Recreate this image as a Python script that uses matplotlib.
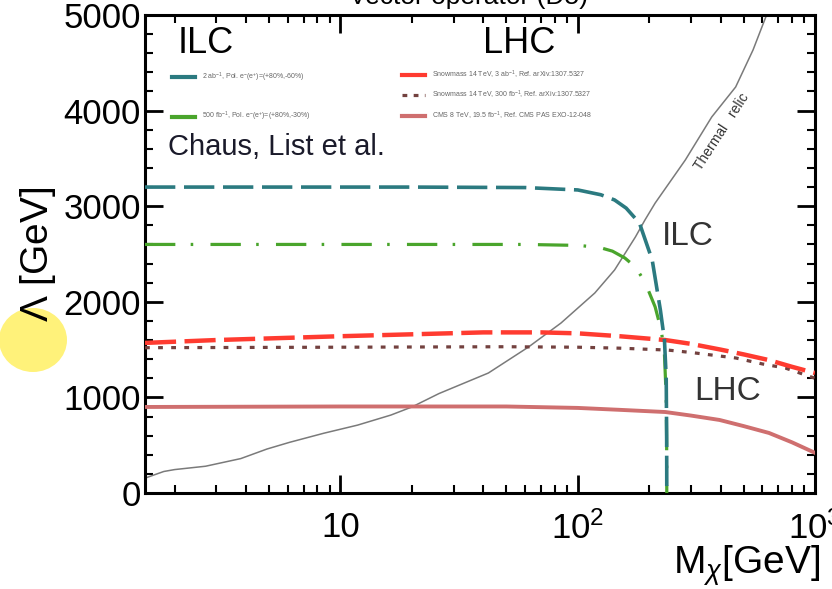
import matplotlib
matplotlib.use("Agg")
import matplotlib.pyplot as plt
from matplotlib.lines import Line2D
from matplotlib.patches import Ellipse

plt.rcParams['font.family'] = ['Liberation Sans', 'DejaVu Sans']
plt.rcParams['mathtext.fontset'] = 'custom'
plt.rcParams['mathtext.rm'] = 'Liberation Sans'
plt.rcParams['mathtext.it'] = 'Liberation Sans:italic'

# ILC, 2 ab^-1
ilc2_m = [1.5, 20, 60, 100, 125, 143, 160, 182, 206, 223, 232, 236, 237, 237.3]
ilc2_lam = [3200, 3200, 3195, 3170, 3120, 3065, 2980, 2824, 2437, 1914, 1600, 1200, 600, 0]

# ILC, 500 fb^-1
ilc500_m = [1.5, 60, 100, 123, 140, 158, 175, 192, 212, 225, 232, 236, 237, 237.3]
ilc500_lam = [2600, 2600, 2590, 2570, 2530, 2458, 2364, 2207, 1946, 1700, 1450, 1000, 500, 0]

# LHC 14 TeV, 3 ab^-1
lhc3000_m = [1.5, 3, 10, 20, 40, 70, 100, 150, 234, 300, 400, 500, 640, 800, 1000]
lhc3000_lam = [1570, 1600, 1640, 1660, 1680, 1680, 1670, 1640, 1600, 1560, 1500, 1450, 1390, 1320, 1255]

# LHC 14 TeV, 300 fb^-1
lhc300_m = [1.5, 10, 50, 100, 150, 240, 300, 464, 600, 750, 1000]
lhc300_lam = [1520, 1525, 1530, 1525, 1515, 1495, 1470, 1412, 1350, 1307, 1200]

# CMS 8 TeV, 19.5 fb^-1
cms8_m = [1.5, 10, 50, 100, 150, 234, 300, 396, 500, 640, 800, 1000]
cms8_lam = [900, 905, 905, 890, 870, 847, 810, 764, 700, 628, 530, 420]

# thermal relic
relic_m = [1.5, 1.6, 1.8, 2.0, 2.7, 3.8, 4.9, 6.1, 8.5, 11.8, 16.3, 20, 26, 42, 62, 85,
           118, 143, 175, 192, 212, 284, 367, 463, 548, 625]
relic_lam = [155, 180, 225, 245, 280, 360, 460, 530, 625, 710, 815, 900, 1040, 1255, 1527, 1778,
             2092, 2333, 2678, 2856, 3033, 3483, 3933, 4247, 4634, 5000]

ilc_labels = [r"2 ab$^{-1}$, Pol. e$^{-}$(e$^{+}$)=(+80%,-60%)",
              r"500 fb$^{-1}$, Pol. e$^{-}$(e$^{+}$)=(+80%,-30%)"]
lhc_labels = [r"Snowmass 14 TeV, 3 ab$^{-1}$, Ref. arXiv:1307.5327",
              r"Snowmass 14 TeV, 300 fb$^{-1}$, Ref. arXiv:1307.5327",
              r"CMS 8 TeV, 19.5 fb$^{-1}$, Ref. CMS PAS EXO-12-048"]

xticks = [10, 100, 1000]
xtick_labels = ["10", r"10$^{2}$", r"10$^{3}$"]
yticks = [0, 1000, 2000, 3000, 4000, 5000]
ytick_labels = ["0", "1000", "2000", "3000", "4000", "5000"]

c_teal = '#2b7a80'
c_green = '#4aa52c'
c_red = '#ff3b30'
c_brown = '#73413f'
c_pink = '#cf6f6f'
c_gray = '#7a7a7a'

fig = plt.figure(figsize=(8.32, 5.89), dpi=100)
ax = fig.add_axes([145/832, 1-493/589, 670/832, 478/589])

ax.plot(relic_m, relic_lam, color=c_gray, lw=1.1, zorder=2)
ax.plot(cms8_m, cms8_lam, color=c_pink, lw=2.8, zorder=3)
ax.plot(lhc300_m, lhc300_lam, color=c_brown, lw=2.3, ls=(0, (1.5, 2.6)), zorder=3)
ax.plot(lhc3000_m, lhc3000_lam, color=c_red, lw=3.2, ls=(0, (7.0, 1.9)), zorder=4)
ax.plot(ilc500_m, ilc500_lam, color=c_green, lw=2.3, ls=(0, (9.5, 4.8, 0.8, 5.4)), zorder=4)
ax.plot(ilc2_m, ilc2_lam, color=c_teal, lw=2.6, ls=(0, (8.4, 2.4)), zorder=5)

ax.set_xscale('log')
ax.set_xlim(1.5, 1000)
ax.set_ylim(0, 5000)
ax.set_xticks(xticks)
ax.set_xticklabels(xtick_labels)
ax.set_yticks(yticks)
ax.set_yticklabels(ytick_labels)
ax.set_yticks(range(0, 5001, 200), minor=True)

for s in ax.spines.values():
    s.set_linewidth(2.2)
ax.tick_params(which='both', direction='in', top=True, right=True, labelsize=25, colors='black')
ax.tick_params(which='major', length=13, width=2.0)
ax.tick_params(which='minor', length=6, width=1.5)
ax.tick_params(axis='x', which='major', pad=13)
ax.tick_params(axis='y', which='major', pad=3)
ax.tick_params(axis='x', which='minor', labelbottom=False)

ax.set_ylabel(r"$\Lambda$ [GeV]", fontsize=28)
ax.yaxis.set_label_coords(-0.13, 0.5)
ax.set_xlabel(r"M$_{\chi}$[GeV]", fontsize=28, loc='right')
ax.xaxis.set_label_coords(1.008, -0.105)

# panel title, partly above the canvas
fig.text(0.563, 0.994, "Vector operator (D5)", fontsize=19, ha='center', va='baseline')

# legends
ax.text(0.091, 0.941, "ILC", fontsize=26, ha='center', va='center', transform=ax.transAxes)
ax.text(0.558, 0.941, "LHC", fontsize=26, ha='center', va='center', transform=ax.transAxes)

ilc_handles = [Line2D([], [], color=c_teal, lw=3), Line2D([], [], color=c_green, lw=3)]
leg1 = ax.legend(ilc_handles, ilc_labels, loc='upper left', bbox_to_anchor=(0.040, 0.884),
                 fontsize=5, frameon=False, borderpad=0, borderaxespad=0,
                 handlelength=3.3, handletextpad=1.0, labelspacing=3.8, labelcolor='#666666')
ax.add_artist(leg1)
lhc_handles = [Line2D([], [], color=c_red, lw=3),
               Line2D([], [], color=c_brown, lw=2.3, ls=(0, (1.5, 2.0))),
               Line2D([], [], color=c_pink, lw=3)]
leg2 = ax.legend(lhc_handles, lhc_labels, loc='upper left', bbox_to_anchor=(0.384, 0.888),
                 fontsize=5, frameon=False, borderpad=0, borderaxespad=0,
                 handlelength=3.3, handletextpad=1.0, labelspacing=1.2, labelcolor='#666666')

ax.text(0.034, 0.724, "Chaus, List et al.", fontsize=21, ha='left', va='center',
        color='#1a1a2a', transform=ax.transAxes)

ax.text(292, 2678, "ILC", fontsize=24, ha='center', va='center', color='#333333')
ax.text(428, 1057, "LHC", fontsize=24, ha='center', va='center', color='#333333')
ax.text(405, 3780, "Thermal   relic", fontsize=10, ha='center', va='center', rotation=57,
        rotation_mode='anchor', color='#333333')

fig.add_artist(Ellipse((33/832, 1-340/589), 68/832, 64/589, transform=fig.transFigure,
                       facecolor='#fff27a', edgecolor='none', zorder=-1))

fig.savefig("out.png", dpi=100)
